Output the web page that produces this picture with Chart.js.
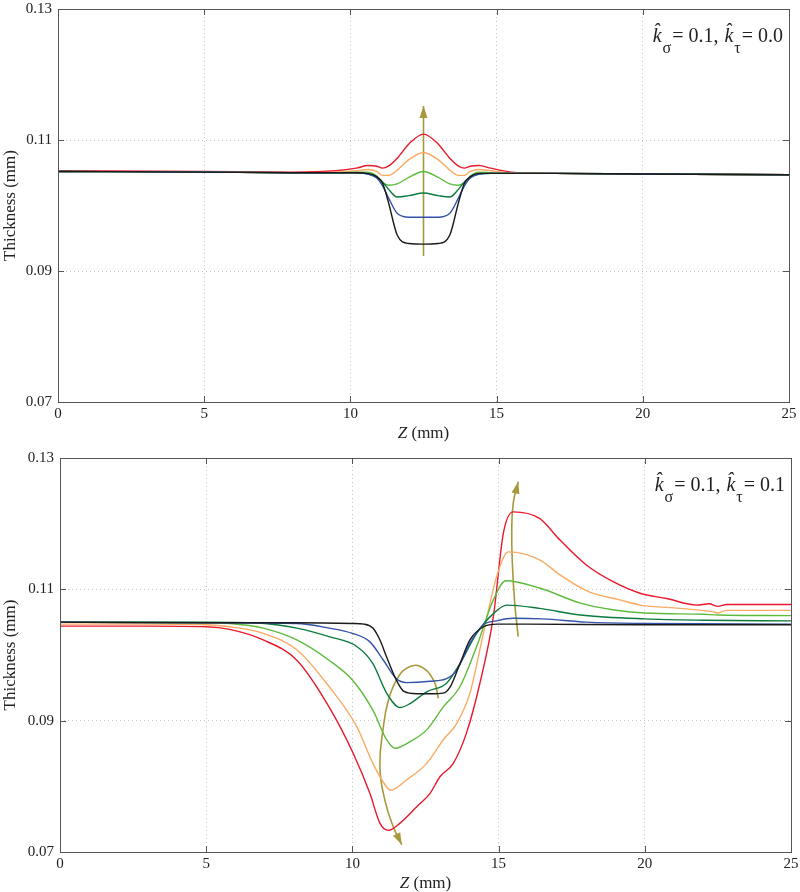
<!DOCTYPE html>
<html><head><meta charset="utf-8">
<script src="https://cdn.jsdelivr.net/npm/chart.js@4.4.1/dist/chart.umd.min.js"></script>
<style>html,body{margin:0;padding:0;background:#fff;} canvas{display:block;}</style>
</head><body>
<canvas id="c1" width="800" height="446"></canvas>
<canvas id="c2" width="800" height="446"></canvas>
<script>
// ---------- data ----------
const zTicks = [0, 5, 10, 15, 20, 25];
const thickTicks = [0.07, 0.09, 0.11, 0.13];
const seriesColors = ['#1a1a1a', '#3352a8', '#0b7a3e', '#5dbb3c', '#f9ab62', '#e8192c'];
const arrowColor = '#a8983c';

// top panel: k_sigma = 0.1, k_tau = 0.0
const zTop = [0, 5, 8, 9.5, 10.2, 10.6, 10.9, 11.1, 11.3, 11.6, 12.0, 12.5, 13.0, 13.4, 13.7, 13.9, 14.1, 14.4, 14.8, 15.5, 17, 20, 25];
const topBlack  = [0.1052,0.1051,0.1050,0.1050,0.1050,0.1049,0.1044,0.1034,0.1005,0.0955,0.0942,0.0941,0.0942,0.0955,0.1005,0.1034,0.1044,0.1049,0.1049,0.1049,0.1049,0.1048,0.1047];
const topBlue   = [0.1052,0.1051,0.1050,0.1050,0.1050,0.1048,0.1042,0.1030,0.1012,0.0988,0.0982,0.0982,0.0982,0.0988,0.1012,0.1030,0.1042,0.1048,0.1049,0.1049,0.1049,0.1048,0.1047];
const topDkGreen= [0.1052,0.1051,0.1050,0.1050,0.1050,0.1048,0.1043,0.1036,0.1025,0.1013,0.1015,0.1019,0.1015,0.1013,0.1025,0.1036,0.1043,0.1048,0.1049,0.1049,0.1049,0.1048,0.1047];
const topGreen  = [0.1052,0.1051,0.1050,0.1050,0.1051,0.1051,0.1045,0.1035,0.1031,0.1033,0.1043,0.1052,0.1043,0.1033,0.1031,0.1035,0.1045,0.1051,0.1050,0.1049,0.1049,0.1048,0.1047];
const topOrange = [0.1052,0.1051,0.1050,0.1051,0.1053,0.1055,0.1052,0.1046,0.1046,0.1054,0.1070,0.1081,0.1070,0.1054,0.1046,0.1046,0.1052,0.1055,0.1053,0.1050,0.1049,0.1048,0.1047];
const topRed    = [0.1053,0.1052,0.1051,0.1053,0.1057,0.1061,0.1060,0.1057,0.1060,0.1072,0.1094,0.1109,0.1094,0.1072,0.1060,0.1057,0.1060,0.1061,0.1057,0.1051,0.1049,0.1048,0.1047];
const topArrowZ = [12.5, 12.5];
const topArrowV = [0.0923, 0.1152];

// bottom panel: k_sigma = 0.1, k_tau = 0.1
const botBlackZ = [0, 5, 8, 10, 10.4, 10.7, 10.95, 11.17, 11.5, 11.75, 12.2, 12.7, 13.1, 13.35, 13.68, 14.02, 14.48, 14.95, 16, 20, 25];
const botBlackV = [0.1050,0.1049,0.1049,0.1048,0.1047,0.1041,0.1022,0.0997,0.0962,0.0945,0.0941,0.0941,0.0942,0.0952,0.0987,0.1023,0.1043,0.1047,0.1047,0.1046,0.1046];
const botBlueZ = [0, 5, 8.1, 9.2, 10.0, 10.6, 11.06, 11.5, 11.85, 12.65, 13.22, 13.57, 14.02, 14.48, 14.93, 15.5, 16.5, 18, 20, 25];
const botBlueV = [0.1050,0.1049,0.1048,0.1041,0.1033,0.1020,0.0992,0.0964,0.0958,0.0960,0.0964,0.0977,0.1018,0.1046,0.1052,0.1056,0.1055,0.1050,0.1048,0.1047];
const botDkGreenZ = [0, 5, 7, 8.1, 9.2, 10.15, 10.7, 11.17, 11.63, 11.97, 12.54, 13.22, 13.68, 14.25, 14.82, 15.28, 16.4, 17.8, 20, 22, 25];
const botDkGreenV = [0.1050,0.1050,0.1048,0.1041,0.1028,0.1013,0.0987,0.0942,0.0920,0.0926,0.0944,0.0957,0.0987,0.1033,0.1063,0.1076,0.1071,0.1061,0.1055,0.1053,0.1052];
const botGreenZ = [0, 5, 5.8, 6.95, 8.1, 9.2, 10.0, 10.7, 11.17, 11.46, 11.97, 12.54, 13.11, 13.68, 14.25, 14.82, 15.25, 16.4, 17.8, 18.9, 20, 22, 22.5, 25];
const botGreenV = [0.1050,0.1049,0.1048,0.1041,0.1023,0.0992,0.0962,0.0916,0.0871,0.0858,0.0868,0.0886,0.0921,0.0952,0.1013,0.1084,0.1113,0.1102,0.1079,0.1069,0.1064,0.1062,0.1061,0.1060];
const botOrangeZ = [0, 3, 5, 5.8, 6.95, 8.1, 9.2, 10.15, 10.7, 11.17, 11.3, 11.86, 12.54, 13.11, 13.57, 14.02, 14.48, 14.93, 15.33, 16.4, 17.1, 18.1, 19.15, 19.84, 21.2, 22.3, 22.5, 22.8, 25];
const botOrangeV = [0.1047,0.1047,0.1046,0.1043,0.1033,0.1008,0.0952,0.0891,0.0835,0.0799,0.0794,0.0810,0.0835,0.0871,0.0896,0.0942,0.1033,0.1119,0.1157,0.1145,0.1122,0.1096,0.1084,0.1076,0.1071,0.1066,0.1064,0.1068,0.1068];
const botRedZ = [0, 3, 5, 5.8, 6.95, 8.1, 9.2, 10.03, 10.6, 10.94, 11.23, 11.63, 12.2, 12.65, 13.0, 13.45, 13.9, 14.36, 14.82, 15.16, 15.5, 16.4, 17.1, 18.0, 18.9, 19.84, 20.75, 21.77, 22.2, 22.5, 22.8, 25];
const botRedV = [0.1044,0.1044,0.1043,0.1039,0.1023,0.0992,0.0921,0.0850,0.0789,0.0744,0.0733,0.0744,0.0769,0.0789,0.0815,0.0835,0.0881,0.0957,0.1058,0.1185,0.1218,0.1208,0.1175,0.1137,0.1112,0.1094,0.1086,0.1076,0.1078,0.1074,0.1077,0.1077];
const botArrow1Z = [12.94, 12.77, 12.31, 11.86, 11.51, 11.23, 11.06, 10.94, 11.11, 11.4, 11.69];
const botArrow1V = [0.0934, 0.0962, 0.0983, 0.0980, 0.0962, 0.0931, 0.0891, 0.0830, 0.0779, 0.0738, 0.0711];
const botArrow2Z = [15.67, 15.55, 15.47, 15.45, 15.5, 15.67];
const botArrow2V = [0.1028, 0.1080, 0.1140, 0.1190, 0.1231, 0.1264];

// ---------- helpers ----------
const FONT = '"Liberation Serif", "DejaVu Serif", serif';
Chart.defaults.font.family = FONT;
Chart.defaults.font.size = 15;
Chart.defaults.color = '#222';

const pts = (zs, vs) => zs.map((z, i) => ({x: z, y: vs[i]}));
const curve = (zs, vs, color) => ({data: pts(zs, vs), borderColor: color, borderWidth: 1.4, showLine: true, pointRadius: 0, cubicInterpolationMode: 'monotone', fill: false});
const arrow = (zs, vs) => ({data: pts(zs, vs), borderColor: arrowColor, borderWidth: 1.6, showLine: true, pointRadius: 0, tension: 0.45, fill: false, isArrow: true});

const framePlugin = {
  id: 'frame',
  afterDraw(chart) {
    const {ctx, chartArea: a, scales} = chart;
    ctx.save();
    ctx.strokeStyle = '#555';
    ctx.lineWidth = 1;
    ctx.strokeRect(Math.round(a.left) + 0.5, Math.round(a.top) + 0.5, Math.round(a.right - a.left), Math.round(a.bottom - a.top));
    const T = 6;
    ctx.beginPath();
    scales.x.ticks.forEach(t => {
      const px = Math.round(scales.x.getPixelForValue(t.value)) + 0.5;
      ctx.moveTo(px, a.bottom); ctx.lineTo(px, a.bottom - T);
      ctx.moveTo(px, a.top); ctx.lineTo(px, a.top + T);
    });
    scales.y.ticks.forEach(t => {
      const py = Math.round(scales.y.getPixelForValue(t.value)) + 0.5;
      ctx.moveTo(a.left, py); ctx.lineTo(a.left + T, py);
      ctx.moveTo(a.right, py); ctx.lineTo(a.right - T, py);
    });
    ctx.stroke();
    // x axis title with italic Z
    const cx = (a.left + a.right) / 2, ty = a.bottom + 36;
    ctx.fillStyle = '#222';
    ctx.textBaseline = 'alphabetic';
    ctx.font = 'italic 17px ' + FONT;
    const wZ = ctx.measureText('Z').width;
    ctx.font = '17px ' + FONT;
    const wR = ctx.measureText(' (mm)').width;
    const sx = cx - (wZ + wR) / 2;
    ctx.font = 'italic 17px ' + FONT;
    ctx.fillText('Z', sx, ty);
    ctx.font = '17px ' + FONT;
    ctx.fillText(' (mm)', sx + wZ, ty);
    // k label
    const kl = chart.options.plugins.kLabel;
    if (kl) {
      const base = a.top + 33;
      const parts = [
        {t: 'k\u0302', f: 'italic 20px ' + FONT, dy: 0, g: 1},
        {t: '\u03c3', f: '16px ' + FONT, dy: 11, g: 1},
        {t: '= ' + kl.sig + ', ', f: '20px ' + FONT, dy: 0, g: 1},
        {t: 'k\u0302', f: 'italic 20px ' + FONT, dy: 0, g: 1},
        {t: '\u03c4', f: '16px ' + FONT, dy: 11, g: 1},
        {t: '= ' + kl.tau, f: '20px ' + FONT, dy: 0, g: 0}
      ];
      let total = 0;
      parts.forEach(p => { ctx.font = p.f; p.w = ctx.measureText(p.t).width; total += p.w + p.g; });
      let x = a.right - 6 - total;
      parts.forEach(p => { ctx.font = p.f; ctx.fillText(p.t, x, base + p.dy); x += p.w + p.g; });
    }
    ctx.restore();
  }
};

const arrowHeadPlugin = {
  id: 'arrowHead',
  afterDatasetsDraw(chart) {
    const ctx = chart.ctx;
    chart.data.datasets.forEach((ds, i) => {
      if (!ds.isArrow) return;
      const el = chart.getDatasetMeta(i).data;
      const b = el[el.length - 1];
      let ax = el[el.length - 2].x, ay = el[el.length - 2].y;
      if (b.cp1x !== undefined && Math.hypot(b.cp1x - b.x, b.cp1y - b.y) > 1) { ax = b.cp1x; ay = b.cp1y; }
      const ang = Math.atan2(b.y - ay, b.x - ax);
      const L = 12, W = 4;
      ctx.save();
      ctx.fillStyle = ds.borderColor;
      ctx.beginPath();
      ctx.moveTo(b.x, b.y);
      ctx.lineTo(b.x - L * Math.cos(ang) + W * Math.sin(ang), b.y - L * Math.sin(ang) - W * Math.cos(ang));
      ctx.lineTo(b.x - L * Math.cos(ang) - W * Math.sin(ang), b.y - L * Math.sin(ang) + W * Math.cos(ang));
      ctx.closePath();
      ctx.fill();
      ctx.restore();
    });
  }
};

function makeChart(id, datasets, kLabel, pad, yWidth, xHeight) {
  return new Chart(document.getElementById(id), {
    type: 'scatter',
    data: {datasets},
    options: {
      responsive: false, animation: false, devicePixelRatio: 1,
      layout: {padding: pad},
      plugins: {legend: {display: false}, tooltip: {enabled: false}, kLabel},
      scales: {
        x: {
          type: 'linear', min: 0, max: 25,
          afterBuildTicks: s => { s.ticks = zTicks.map(v => ({value: v})); },
          afterFit: s => { s.height = xHeight; s.paddingLeft = 0; s.paddingRight = 0; },
          ticks: {padding: 3, maxRotation: 0, autoSkip: false, color: '#222', font: {size: 15}},
          grid: {color: '#c4c4c4', lineWidth: 1, drawTicks: false},
          border: {display: false, dash: [1, 3]}
        },
        y: {
          type: 'linear', min: 0.07, max: 0.13,
          afterBuildTicks: s => { s.ticks = thickTicks.map(v => ({value: v})); },
          afterFit: s => { s.width = yWidth; s.paddingTop = 0; s.paddingBottom = 0; },
          ticks: {padding: 6, color: '#222', font: {size: 15}, callback: v => Number(v).toFixed(2)},
          grid: {color: '#c4c4c4', lineWidth: 1, drawTicks: false},
          border: {display: false, dash: [1, 3]},
          title: {display: true, text: 'Thickness (mm)', font: {size: 17}, padding: {top: 0, bottom: 0}}
        }
      }
    },
    plugins: [framePlugin, arrowHeadPlugin]
  });
}

makeChart('c1', [
  curve(zTop, topBlack, seriesColors[0]),
  curve(zTop, topBlue, seriesColors[1]),
  curve(zTop, topDkGreen, seriesColors[2]),
  curve(zTop, topGreen, seriesColors[3]),
  curve(zTop, topOrange, seriesColors[4]),
  curve(zTop, topRed, seriesColors[5]),
  arrow(topArrowZ, topArrowV)
], {sig: '0.1', tau: '0.0'}, {top: 9, right: 11, left: 0, bottom: 0}, 58, 44);

makeChart('c2', [
  curve(botBlackZ, botBlackV, seriesColors[0]),
  curve(botBlueZ, botBlueV, seriesColors[1]),
  curve(botDkGreenZ, botDkGreenV, seriesColors[2]),
  curve(botGreenZ, botGreenV, seriesColors[3]),
  curve(botOrangeZ, botOrangeV, seriesColors[4]),
  curve(botRedZ, botRedV, seriesColors[5]),
  arrow(botArrow1Z, botArrow1V),
  arrow(botArrow2Z, botArrow2V)
], {sig: '0.1', tau: '0.1'}, {top: 12, right: 9, left: 0, bottom: 0}, 60, 40);
</script>
</body></html>
